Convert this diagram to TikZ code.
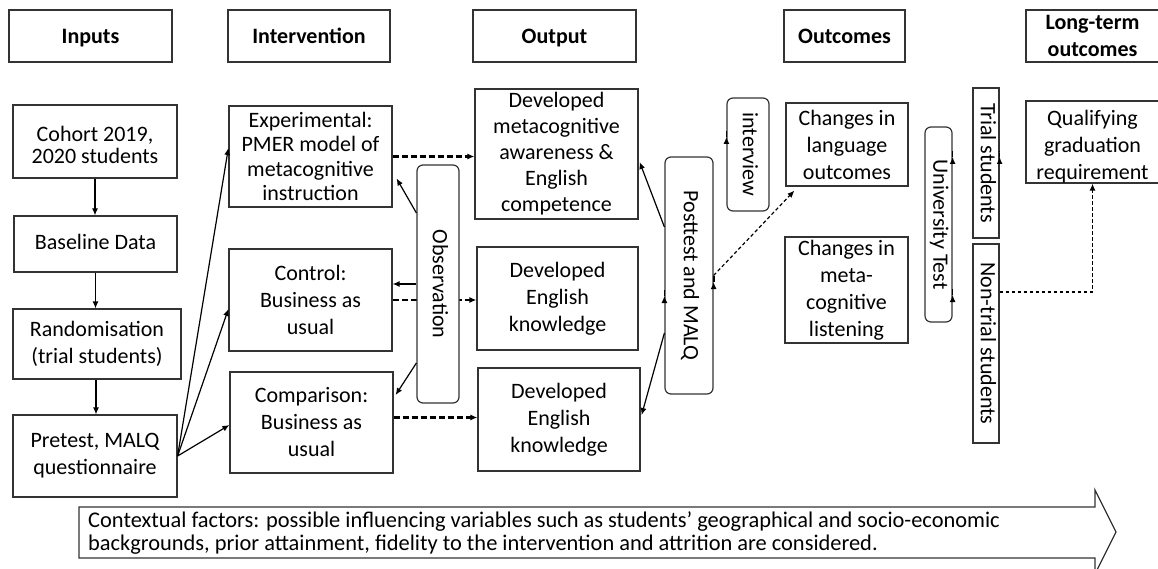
\documentclass[tikz,border=0pt]{standalone}
\usepackage{fontspec}
\setmainfont{Carlito}
\usetikzlibrary{arrows.meta,calc,backgrounds}
\begin{document}
\begin{tikzpicture}[x=1pt,y=-1pt,
  box/.style={draw=black!80, line width=1.2pt, inner sep=0pt, align=center, font=\fontsize{22}{27}\selectfont},
  rbox/.style={box, rounded corners=6pt},
  hdr/.style={box, font=\bfseries\fontsize{22}{27}\selectfont, minimum height=52},
  hdrone/.style={hdr, text height=18pt, text depth=2pt},
  vbox/.style={box, rotate=-90, text height=15.5pt, text depth=5pt},
  arr/.style={line width=1.2pt, -{Latex[length=7pt,width=6pt]}},
  tdash/.style={arr, line width=2.2pt, dash pattern=on 6pt off 3pt, -{Latex[length=7pt,width=6pt]}},
  sdash/.style={arr, dash pattern=on 3.5pt off 2.5pt}
]
\useasboundingbox (0,0) rectangle (1158,569);
\clip (0,0) rectangle (1158,569);

% headers
\node[hdrone, minimum width=163] (hin) at (90.5,36) {Inputs};
\node[hdrone, minimum width=162] (hint) at (309,36) {Intervention};
\node[hdrone, minimum width=163] (hout) at (554.5,36) {Output};
\node[hdrone, minimum width=121] (hoc) at (844.5,36) {Outcomes};
\node[hdr, minimum width=133] (hlt) at (1092.5,36) {Long-term\\outcomes};

% inputs
\node[box, minimum width=164, minimum height=73, font=\fontsize{22}{22}\selectfont] (coh) at (95,141.5) {\rule{0pt}{3pt}\\[-3pt]Cohort 2019,\\2020 students};
\node[box, minimum width=163, minimum height=56, text height=16pt, text depth=4pt] (base) at (95.5,244) {Baseline Data};
\node[box, minimum width=168, minimum height=70] (rand) at (97,344) {Randomisation\\(trial students)};
\node[box, minimum width=164, minimum height=82] (pre) at (95,456) {Pretest, MALQ\\questionnaire};

% intervention
\node[box, minimum width=163, minimum height=101, font=\fontsize{22}{24.5}\selectfont] (exp) at (310.5,156.5) {Experimental:\\PMER model of\\metacognitive\\instruction};
\node[box, minimum width=163, minimum height=102] (ctrl) at (310.5,300) {Control:\\Business as\\usual};
\node[box, minimum width=163, minimum height=101] (comp) at (311.5,422.5) {Comparison:\\Business as\\usual};

% output
\node[box, minimum width=163, minimum height=130, font=\fontsize{22}{26}\selectfont] (devmeta) at (556.5,154) {Developed\\metacognitive\\awareness \&\\English\\competence};
\node[box, minimum width=161, minimum height=103] (deveng) at (557.5,298.5) {Developed\\English\\knowledge};
\node[box, minimum width=162, minimum height=103] (deveng2) at (559,419.5) {Developed\\English\\knowledge};

% outcomes
\node[box, minimum width=122, minimum height=83] (chlang) at (847,144.5) {Changes in\\language\\outcomes};
\node[box, minimum width=123, minimum height=106] (chmeta) at (846.5,290) {Changes in\\meta-\\cognitive\\listening};

% long-term
\node[box, minimum width=133, minimum height=82] (qual) at (1092.5,142) {\rule{0pt}{3pt}\\[-6pt]Qualifying\\graduation\\requirement};

% vertical boxes
\node[vbox, rounded corners=6pt, minimum width=195, minimum height=27] (ut) at (938.5,224.5) {University Test};
\node[vbox, minimum width=150, minimum height=26] (trial) at (986,163) {Trial students};
\node[vbox, minimum width=199, minimum height=26] (nontrial) at (986,343.5) {Non-trial students};
\node[vbox, rounded corners=6pt, minimum width=237, minimum height=48] (post) at (689,275.5) {Posttest and MALQ};
\node[vbox, rounded corners=6pt, minimum width=113, minimum height=42] (intv) at (748,154.5) {interview};

% dashed line passing behind observation
\begin{pgfonlayer}{background}
\draw[tdash] (ctrl.east) -- (ctrl.east -| deveng.west);
\end{pgfonlayer}
\node[vbox, rounded corners=6pt, fill=white, minimum width=238, minimum height=42] (obs) at (438,284) {Observation};

% input arrows
\draw[arr] (coh.south) -- (coh.south |- base.north);
\draw[arr] (base.south) -- (base.south |- rand.north);
\draw[arr] ([xshift=-1pt]rand.south) -- ([xshift=-1pt]rand.south |- pre.north);
\draw[arr] (pre.east) -- ([yshift=8.5pt]exp.west);
\draw[arr] (pre.east) -- ([yshift=-9pt]ctrl.west);
\draw[arr] (pre.east) -- ([yshift=-2.5pt]comp.west);

% intervention to output
\draw[tdash] (exp.east) -- (exp.east -| devmeta.west);
\draw[tdash] ([yshift=5pt]comp.east) -- ([yshift=5pt]comp.east -| deveng2.west);

% observation arrows
\draw[arr] ($(obs.south)+(0,-71)$) -- ($(exp.east)+(4,22)$);
\draw[arr] (obs.south) -- (obs.south -| ctrl.east);
\draw[arr] ($(obs.south)+(0,79)$) -- ($(comp.east)+(2,-27.5)$);

% interview & posttest arrows
\draw[arr] ($(intv.south)+(0,-17.5)$) -- ($(intv.south)+(0,-17.5)$ -| devmeta.east);
\draw[arr] ($(post.south)+(0,-48.5)$) -- ($(devmeta.east)+(1,8)$);
\draw[arr] ($(post.south)+(0,20.5)$) -- ($(post.south)+(0,20.5)$ -| deveng.east);
\draw[arr] ($(post.south)+(0,57.5)$) -- ($(deveng2.east)+(1,-4.5)$);
\draw[sdash] (post.north) -- ($(chlang.south west)+(9,4)$);
\draw[tdash] ($(post.north)+(0,6.5)$) -- ($(post.north)+(0,6.5)$ -| chmeta.west);

% university test
\draw[arr] ($(ut.north)+(0,-67.5)$) -- ($(ut.north)+(0,-67.5)$ -| trial.south);
\draw[arr] ($(ut.north)+(0,70.5)$) -- ($(ut.north)+(0,70.5)$ -| nontrial.south);
\draw[sdash] ($(trial.north)+(0,-6)$) -- ($(trial.north)+(0,-6)$ -| qual.west);
\draw[sdash] ($(nontrial.north)+(0,-51.5)$) -| (qual.south);

% contextual factors arrow
\draw[draw=black!80, line width=1.2pt] (79,507) -- (1095,507) -- (1095,490) -- (1116,532) -- (1095,574) -- (1095,558) -- (79,558) -- cycle;
\node[anchor=west, align=left, inner sep=0pt, font=\fontsize{22.4}{23}\selectfont] (ctx) at (88,533) {Contextual factors: possible influencing variables such as students’ geographical and socio-economic\\backgrounds, prior attainment, fidelity to the intervention and attrition are considered.};
\end{tikzpicture}
\end{document}
